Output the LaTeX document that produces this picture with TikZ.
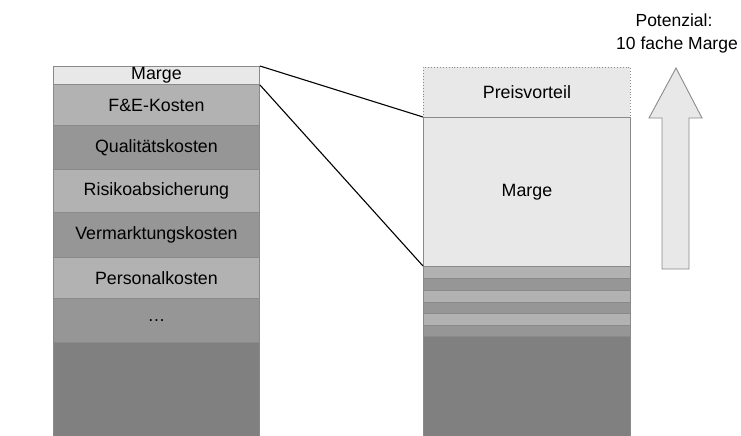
\documentclass[tikz,border=0pt]{standalone}
\usepackage{fontspec}
\setmainfont{Liberation Sans}
\definecolor{cLight}{HTML}{E8E8E8}
\definecolor{cMid}{HTML}{B2B2B2}
\definecolor{cDark}{HTML}{969696}
\definecolor{cBase}{HTML}{808080}
\definecolor{cEdge}{HTML}{8A8A8A}
\begin{document}
\begin{tikzpicture}[x=1pt,y=-1pt,
  cell/.style={draw=cEdge, line width=0.9pt, anchor=north west, inner sep=0pt,
    minimum width=206pt, font=\fontsize{17.8}{21}\selectfont},
  rcell/.style={cell, minimum width=207pt},
  link/.style={draw=black, line width=1.1pt}]
\useasboundingbox (0,0) rectangle (741,436);
\clip (0,0) rectangle (741,436);

% cost stack on the left
\node[cell, fill=cLight, minimum height=18pt] (lm) at (53,66) {Marge};
\node[cell, fill=cMid,  minimum height=41pt] (fe) at (53,84) {F\&E-Kosten};
\node[cell, fill=cDark, minimum height=44pt] (qk) at (53,125) {Qualitätskosten};
\node[cell, fill=cMid,  minimum height=43pt] (ra) at (53,169) {Risikoabsicherung};
\node[cell, fill=cDark, minimum height=45pt] (vk) at (53,212) {Vermarktungskosten};
\node[cell, fill=cMid,  minimum height=41pt] (pk) at (53,257) {Personalkosten};
\node[cell, fill=cDark, minimum height=44pt] (etc) at (53,298) {…};
\node[cell, fill=cBase, minimum height=96pt] (lb) at (53,342) {};

% enlarged stack on the right
\node[rcell, fill=cLight, dotted, minimum height=50pt] (pv) at (423,67) {Preisvorteil};
\node[rcell, fill=cLight, minimum height=149pt] (rm) at (423,117) {Marge};
\node[rcell, fill=cMid,  minimum height=12pt] (s1) at (423,266) {};
\node[rcell, fill=cDark, minimum height=12pt] (s2) at (423,278) {};
\node[rcell, fill=cMid,  minimum height=12pt] (s3) at (423,290) {};
\node[rcell, fill=cDark, minimum height=11pt] (s4) at (423,302) {};
\node[rcell, fill=cMid,  minimum height=12pt] (s5) at (423,313) {};
\node[rcell, fill=cDark, minimum height=11pt] (s6) at (423,325) {};
\node[rcell, fill=cBase, minimum height=102pt] (rb) at (423,336) {};

% magnification lines
\draw[link] (lm.north east) -- (rm.north west);
\draw[link] (lm.south east) -- (s1.north west);

% potential arrow
\draw[draw=cEdge, line width=0.9pt, fill=cLight]
  (676,68) -- (702,118) -- (689,118) -- (689,269) -- (662,269)
  -- (662,118) -- (649,118) -- cycle;
\node[font=\fontsize{17.5}{22}\selectfont, anchor=base] (pot1) at (674,27) {Potenzial:};
\node[font=\fontsize{17.5}{22}\selectfont, anchor=base] (pot2) at (677,49) {10 fache Marge};
\end{tikzpicture}
\end{document}
